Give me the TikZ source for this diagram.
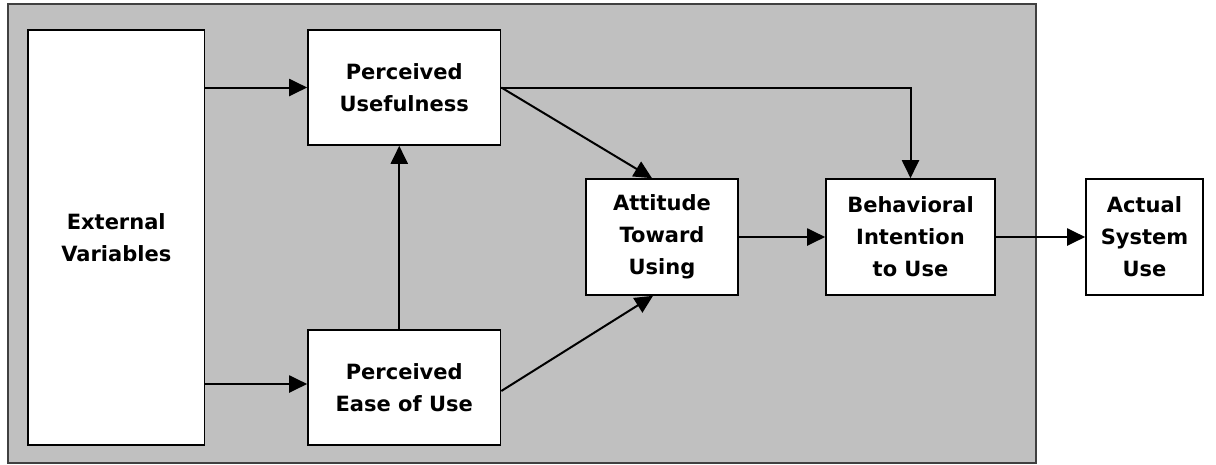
\documentclass[tikz,border=0pt]{standalone}
\usepackage{fontspec}
\setmainfont{DejaVu Sans}
\usetikzlibrary{arrows.meta}
\definecolor{panelgray}{RGB}{192,192,192}
\definecolor{paneledge}{RGB}{64,64,64}
\begin{document}
\begin{tikzpicture}[x=1pt,y=-1pt,
  box/.style={draw=black,fill=white,line width=1.6pt,rectangle,align=center,
    inner sep=0pt,font=\bfseries\fontsize{21}{32}\selectfont},
  arr/.style={line width=2pt,-{Triangle[length=18pt,width=17pt]}}]
\useasboundingbox (0,0) rectangle (1216,464);
\draw[fill=panelgray,draw=paneledge,line width=2pt] (7.5,3.5) rectangle (1036,462.5);
\node[box,minimum width=176.5pt,minimum height=415pt] (EV) at (116.25,237.5) {External\\Variables};
\node[box,minimum width=192.5pt,minimum height=115pt] (PU) at (404.25,87.5) {Perceived\\Usefulness};
\node[box,minimum width=192.5pt,minimum height=115pt] (PEOU) at (404.25,387.5) {Perceived\\Ease of Use};
\node[box,minimum width=152pt,minimum height=116pt] (ATT) at (662,237) {Attitude\\Toward\\Using};
\node[box,minimum width=169pt,minimum height=116pt] (BI) at (910.5,237) {Behavioral\\Intention\\to Use};
\node[box,minimum width=117pt,minimum height=116pt] (ACT) at (1144.5,237) {Actual\\System\\Use};
\coordinate (peouin) at ([yshift=3.5pt]PEOU.west);
\draw[arr] (EV.east |- PU.west) -- (PU.west);
\draw[arr] (EV.east |- peouin) -- (peouin);
\draw[arr] ([xshift=-5pt]PEOU.north) -- ([xshift=-5pt]PU.south);
\draw[arr] (PU.east) -- ([xshift=-10pt]ATT.north);
\draw[arr] (PU.east) -| (BI.north);
\draw[arr] ([yshift=-3.5pt]PEOU.east) -- ([xshift=-9pt]ATT.south);
\draw[arr] (ATT.east) -- (BI.west);
\draw[arr] (BI.east) -- (ACT.west);
\end{tikzpicture}
\end{document}
